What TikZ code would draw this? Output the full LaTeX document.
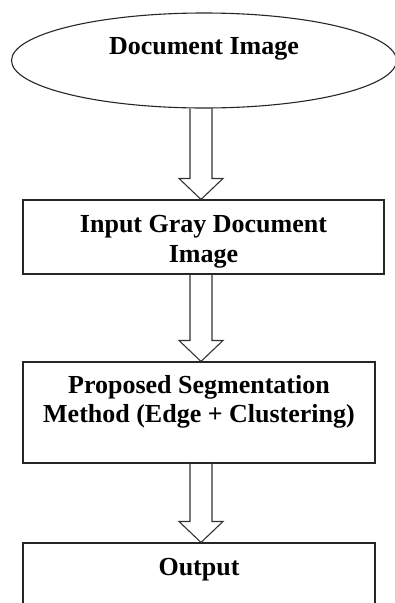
\documentclass[tikz,border=0pt]{standalone}
\usepackage{fontspec}
\setmainfont{Liberation Serif}
\usetikzlibrary{shapes.geometric,calc}
\newcommand\blockarrow[2]{%
  \draw[blk] ($(#1.south -| ax)+(-11,0)$) -- ($(#2.north -| ax)+(-11,-21)$)
    -- ($(#2.north -| ax)+(-22,-21)$) -- (#2.north -| ax)
    -- ($(#2.north -| ax)+(22,-21)$) -- ($(#2.north -| ax)+(11,-21)$)
    -- ($(#1.south -| ax)+(11,0)$);}
\begin{document}
\begin{tikzpicture}[x=1pt,y=-1pt,
  shapeline/.style={draw=black!85, line width=1.1pt},
  lbl/.style={font=\bfseries\fontsize{26}{29.5}\selectfont, align=center, inner sep=0pt},
  box/.style={shapeline, rectangle, inner sep=0pt},
  blk/.style={draw=black!80, line width=1.1pt, line join=miter}]
\useasboundingbox (0,0) rectangle (395,603);
\coordinate (ax) at (201,0);
\node[shapeline, ellipse, inner sep=0pt, minimum width=385pt, minimum height=95pt,
  label={[lbl, yshift=11.5pt]center:Document Image}] (doc) at (204,60.5) {};
\node[box, minimum width=361pt, minimum height=74pt,
  label={[lbl, yshift=-4.8pt]center:Input Gray Document\\Image}] (gray) at (203.5,237) {};
\node[box, minimum width=352pt, minimum height=101pt,
  label={[lbl, yshift=10.5pt]center:Proposed Segmentation\\Method (Edge + Clustering)}] (seg) at (199,412.5) {};
\node[box, minimum width=352pt, minimum height=80pt,
  label={[lbl, yshift=13pt]center:Output}] (out) at (199,583) {};
\blockarrow{doc}{gray}
\blockarrow{gray}{seg}
\blockarrow{seg}{out}
\end{tikzpicture}
\end{document}
